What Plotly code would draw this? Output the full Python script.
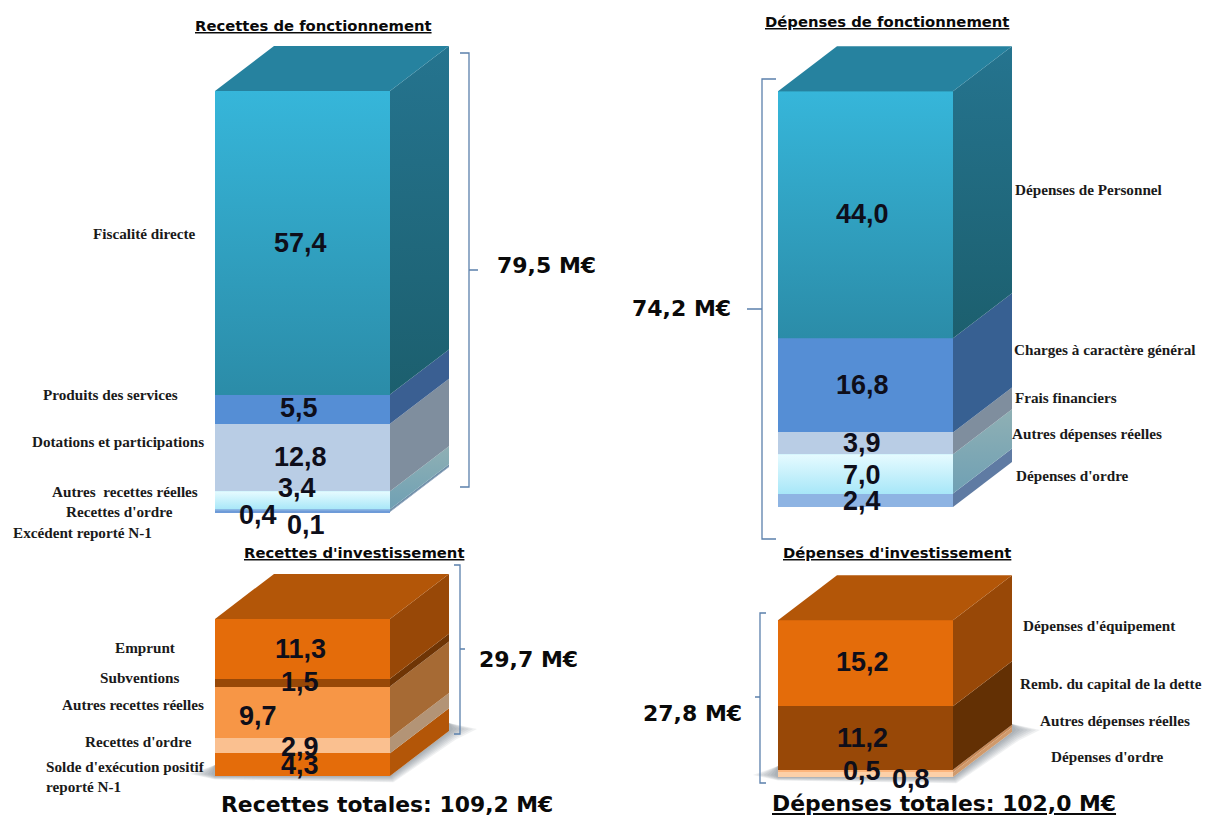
import plotly.graph_objects as go

WIDTH, HEIGHT = 1206, 815

# Budget figures, in millions of euros, listed from the bottom of each stack upward
rf_categories = ["Excédent reporté N-1", "Recettes d'ordre", "Autres  recettes réelles",
                 "Dotations et participations", "Produits des services", "Fiscalité directe"]
rf_values = [0.1, 0.4, 3.4, 12.8, 5.5, 57.4]

df_categories = ["Dépenses d'ordre", "Autres dépenses réelles", "Frais financiers",
                 "Charges à caractère général", "Dépenses de Personnel"]
df_values = [2.4, 7.0, 3.9, 16.8, 44.0]

ri_categories = ["Solde d'exécution positif<br>reporté N-1", "Recettes d'ordre",
                 "Autres recettes réelles", "Subventions", "Emprunt"]
ri_values = [4.3, 2.9, 9.7, 1.5, 11.3]

di_categories = ["Dépenses d'ordre", "Autres dépenses réelles",
                 "Remb. du capital de la dette", "Dépenses d'équipement"]
di_values = [0.8, 0.5, 11.2, 15.2]

section_totals = ["79,5 M€", "74,2 M€", "29,7 M€", "27,8 M€"]
section_titles = ["Recettes de fonctionnement", "Dépenses de fonctionnement",
                  "Recettes d'investissement", "Dépenses d'investissement"]
grand_totals = ["Recettes totales: 109,2 M€", "Dépenses totales: 102,0 M€"]

# Page geometry of each block and its face colours
DEPTH_X, DEPTH_Y = 59, 45
BAR_W = 175
panels = [
    dict(values=rf_values, cats=rf_categories, left=215, bottom=512, scale=5.29,
         top="#26829F", shadow=False,
         front=["#6E9BD8", "#7FA9DE", ("#A8E7F8", "#E6FBFF"), "#B9CDE5", "#558ED5", ("#2B8CA8", "#36B6DA")],
         side=["#5F7BA3", "#6F8FA8", ("#6FA0B4", "#8FB0B4"), "#7F8E9E", "#3A5F92", ("#1C5F6E", "#25748F")],
         value_pos=[(306, 525), (258, 515), (297, 488), (300, 457), (299, 408), (300, 243)],
         cat_pos=[(11, 532), (64, 511), (50, 492), (30, 441), (41, 394), (91, 233)]),
    dict(values=df_values, cats=df_categories, left=778, bottom=507, scale=5.61,
         top="#26829F", shadow=False,
         front=["#8EB4E3", ("#A8E7F8", "#E6FBFF"), "#B9CDE5", "#558ED5", ("#2B8CA8", "#36B6DA")],
         side=["#5F7BA3", ("#6FA0B4", "#8FB0B4"), "#7F8E9E", "#376092", ("#1C5F6E", "#25748F")],
         value_pos=[(862, 501), (862, 475), (862, 443), (862, 385), (862, 214)],
         cat_pos=[(1014, 475), (1010, 433), (1013, 397), (1012, 350), (1013, 189)]),
    dict(values=ri_values, cats=ri_categories, left=215, bottom=776, scale=5.29,
         top="#B35608", shadow=True,
         front=["#E46C0A", "#FAC090", "#F79646", "#984807", "#E46C0A"],
         side=["#B35608", "#B39476", "#A66A34", "#6F3505", "#984807"],
         value_pos=[(300, 765), (300, 747), (258, 716), (300, 682), (300, 649)],
         cat_pos=[(44, 776), (83, 741), (60, 704), (98, 677), (113, 647)]),
    dict(values=di_values, cats=di_categories, left=778, bottom=777, scale=5.66,
         top="#B35608", shadow=True,
         front=["#FCD0A8", "#FCB57C", "#984807", "#E46C0A"],
         side=["#D09A6C", "#C98A58", "#633004", "#984807"],
         value_pos=[(911, 779), (862, 771), (862, 738), (862, 662)],
         cat_pos=[(1049, 756), (1038, 720), (1018, 683), (1021, 625)]),
]

# Budget brackets: spine x, span, end direction, total-tick direction
brackets = [
    dict(x=469, y0=53, y1=487, end=-9, tick=9, tick_y=270),
    dict(x=762, y0=79, y1=539, end=14, tick=-15, tick_y=309),
    dict(x=460, y0=565, y1=734, end=-6, tick=5, tick_y=649),
    dict(x=760, y0=613, y1=783, end=6, tick=-5, tick_y=697),
]
total_pos = [(546, 265), (681, 308), (528, 659), (692, 713)]
title_pos = [(313, 25), (887, 22), (354, 552), (897, 552)]
grand_pos = [(387, 804), (944, 803)]


def px_x(x):
    return x / WIDTH


def px_y(y):
    return 1 - y / HEIGHT


def fmt(v):
    return f"{v:.1f}".replace(".", ",")


def face(xs, ys, axis, fill):
    """Filled polygon in a block's data space; a colour pair gives a bottom-to-top gradient."""
    t = dict(x=xs + xs[:1], y=ys + ys[:1], xaxis=f"x{axis}", yaxis=f"y{axis}", mode="lines",
             line=dict(width=0), fill="toself", hoverinfo="skip", showlegend=False)
    if isinstance(fill, tuple):
        t["fillgradient"] = dict(type="vertical", colorscale=[[0, fill[0]], [1, fill[1]]])
        t["fillcolor"] = fill[0]
    else:
        t["fillcolor"] = fill
    return go.Scatter(**t)


fig = go.Figure()
layout_axes = {}
annotations = []
shapes = []

for i, p in enumerate(panels, start=1):
    unit = p["scale"]
    dx, dy = DEPTH_X / BAR_W, DEPTH_Y / unit
    total = sum(p["values"])

    # Axis window in page pixels; the data scale follows from it
    win_l, win_r = p["left"] - 40, p["left"] + BAR_W + 110
    win_b, win_t = p["bottom"] + 12, p["bottom"] - total * unit - 60
    suffix = "" if i == 1 else str(i)
    layout_axes[f"xaxis{suffix}"] = dict(
        domain=[px_x(win_l), px_x(win_r)], visible=False, fixedrange=True, anchor=f"y{suffix}",
        range=[-0.5 - 40 / BAR_W, 0.5 + 110 / BAR_W])
    layout_axes[f"yaxis{suffix}"] = dict(
        domain=[px_y(win_b), px_y(win_t)], visible=False, fixedrange=True, anchor=f"x{suffix}",
        range=[-12 / unit, total + 60 / unit])

    # Soft ground shadow: translucent rings growing outside the foot of the orange blocks
    if p["shadow"]:
        ox, oy = 1 / BAR_W, 1 / unit
        for k in range(1, 8):
            xs = [-0.5, -0.5 - 3.6 * k * ox, -0.5, 0.5 + 0.5 * k * ox,
                  0.5 + dx + 1 * k * ox, 0.5 + dx + 4 * k * ox, 0.5 + dx,
                  0.5 + dx, 0.5, -0.5]
            ys = [11 * oy, 2 * oy, -0.5 * k * oy, -0.9 * k * oy,
                  dy - 1.2 * k * oy, dy + 2 * oy, dy + 8 * oy,
                  dy, 0, 0]
            fig.add_trace(face(xs, ys, i, "rgba(85,90,105,0.085)"))

    # Front of the stack
    for value, colour, cat in zip(p["values"], p["front"], p["cats"]):
        flat = colour[0] if isinstance(colour, tuple) else colour
        fig.add_trace(go.Bar(x=[0], y=[value], width=1, name=cat, xaxis=f"x{i}", yaxis=f"y{i}",
                             marker=dict(color=flat, line=dict(width=0)),
                             hoverinfo="skip", showlegend=False))

    # Side faces, and a gradient over the fronts that carry one
    base = 0.0
    for value, fc, sc in zip(p["values"], p["front"], p["side"]):
        top = base + value
        fig.add_trace(face([0.5, 0.5, 0.5 + dx, 0.5 + dx],
                           [base, top, top + dy, base + dy], i, sc))
        if isinstance(fc, tuple):
            fig.add_trace(face([-0.5, -0.5, 0.5, 0.5], [base, top, top, base], i, fc))
        base = top

    # Top face of the block
    fig.add_trace(face([-0.5, -0.5 + dx, 0.5 + dx, 0.5],
                       [total, total + dy, total + dy, total], i, p["top"]))

    # Value labels and category labels
    for value, (x, y) in zip(p["values"], p["value_pos"]):
        annotations.append(dict(text=fmt(value), x=px_x(x), y=px_y(y), xref="paper", yref="paper",
                                xanchor="center", yanchor="middle", showarrow=False,
                                font=dict(family="Liberation Sans", size=27, color="#0E0E1A", weight="bold")))
    for cat, (x, y) in zip(p["cats"], p["cat_pos"]):
        annotations.append(dict(text=cat, x=px_x(x), y=px_y(y), xref="paper", yref="paper",
                                xanchor="left", yanchor="middle", align="left", showarrow=False,
                                font=dict(family="Liberation Serif", size=15.2, color="#1A1A1A", weight="bold")))

# Section totals, section titles and grand totals
for text, (x, y) in zip(section_totals, total_pos):
    annotations.append(dict(text=text, x=px_x(x), y=px_y(y), xref="paper", yref="paper",
                            xanchor="center", yanchor="middle", showarrow=False,
                            font=dict(family="DejaVu Sans", size=22, color="#0A0A0A", weight="bold")))
for text, (x, y) in zip(section_titles, title_pos):
    annotations.append(dict(text=text, x=px_x(x), y=px_y(y), xref="paper", yref="paper",
                            xanchor="center", yanchor="middle", showarrow=False,
                            font=dict(family="DejaVu Sans", size=14.8, color="#0A0A0A", weight="bold",
                                      lineposition="under")))
for j, (text, (x, y)) in enumerate(zip(grand_totals, grand_pos)):
    annotations.append(dict(text=text, x=px_x(x), y=px_y(y), xref="paper", yref="paper",
                            xanchor="center", yanchor="middle", showarrow=False,
                            font=dict(family="DejaVu Sans", size=21.9, color="#0A0A0A", weight="bold",
                                      lineposition="under" if j == 1 else "none")))

# Brackets beside each block
for b in brackets:
    x, e, t = b["x"], b["end"], b["tick"]
    y0, y1, ty = b["y0"], b["y1"], b["tick_y"]
    pts = [(x + e, y0), (x, y0), (x, y1), (x + e, y1)]
    path = "M " + " L ".join(f"{px_x(a):.5f},{px_y(c):.5f}" for a, c in pts)
    path += f" M {px_x(x):.5f},{px_y(ty):.5f} L {px_x(x + t):.5f},{px_y(ty):.5f}"
    shapes.append(dict(type="path", path=path, xref="paper", yref="paper",
                       line=dict(color="#5B80AC", width=1.3)))

fig.update_layout(width=WIDTH, height=HEIGHT, margin=dict(l=0, r=0, t=0, b=0),
                  paper_bgcolor="white", plot_bgcolor="rgba(0,0,0,0)",
                  barmode="stack", showlegend=False, annotations=annotations, shapes=shapes,
                  **layout_axes)

fig.write_html("out.html", config={"displayModeBar": False})
